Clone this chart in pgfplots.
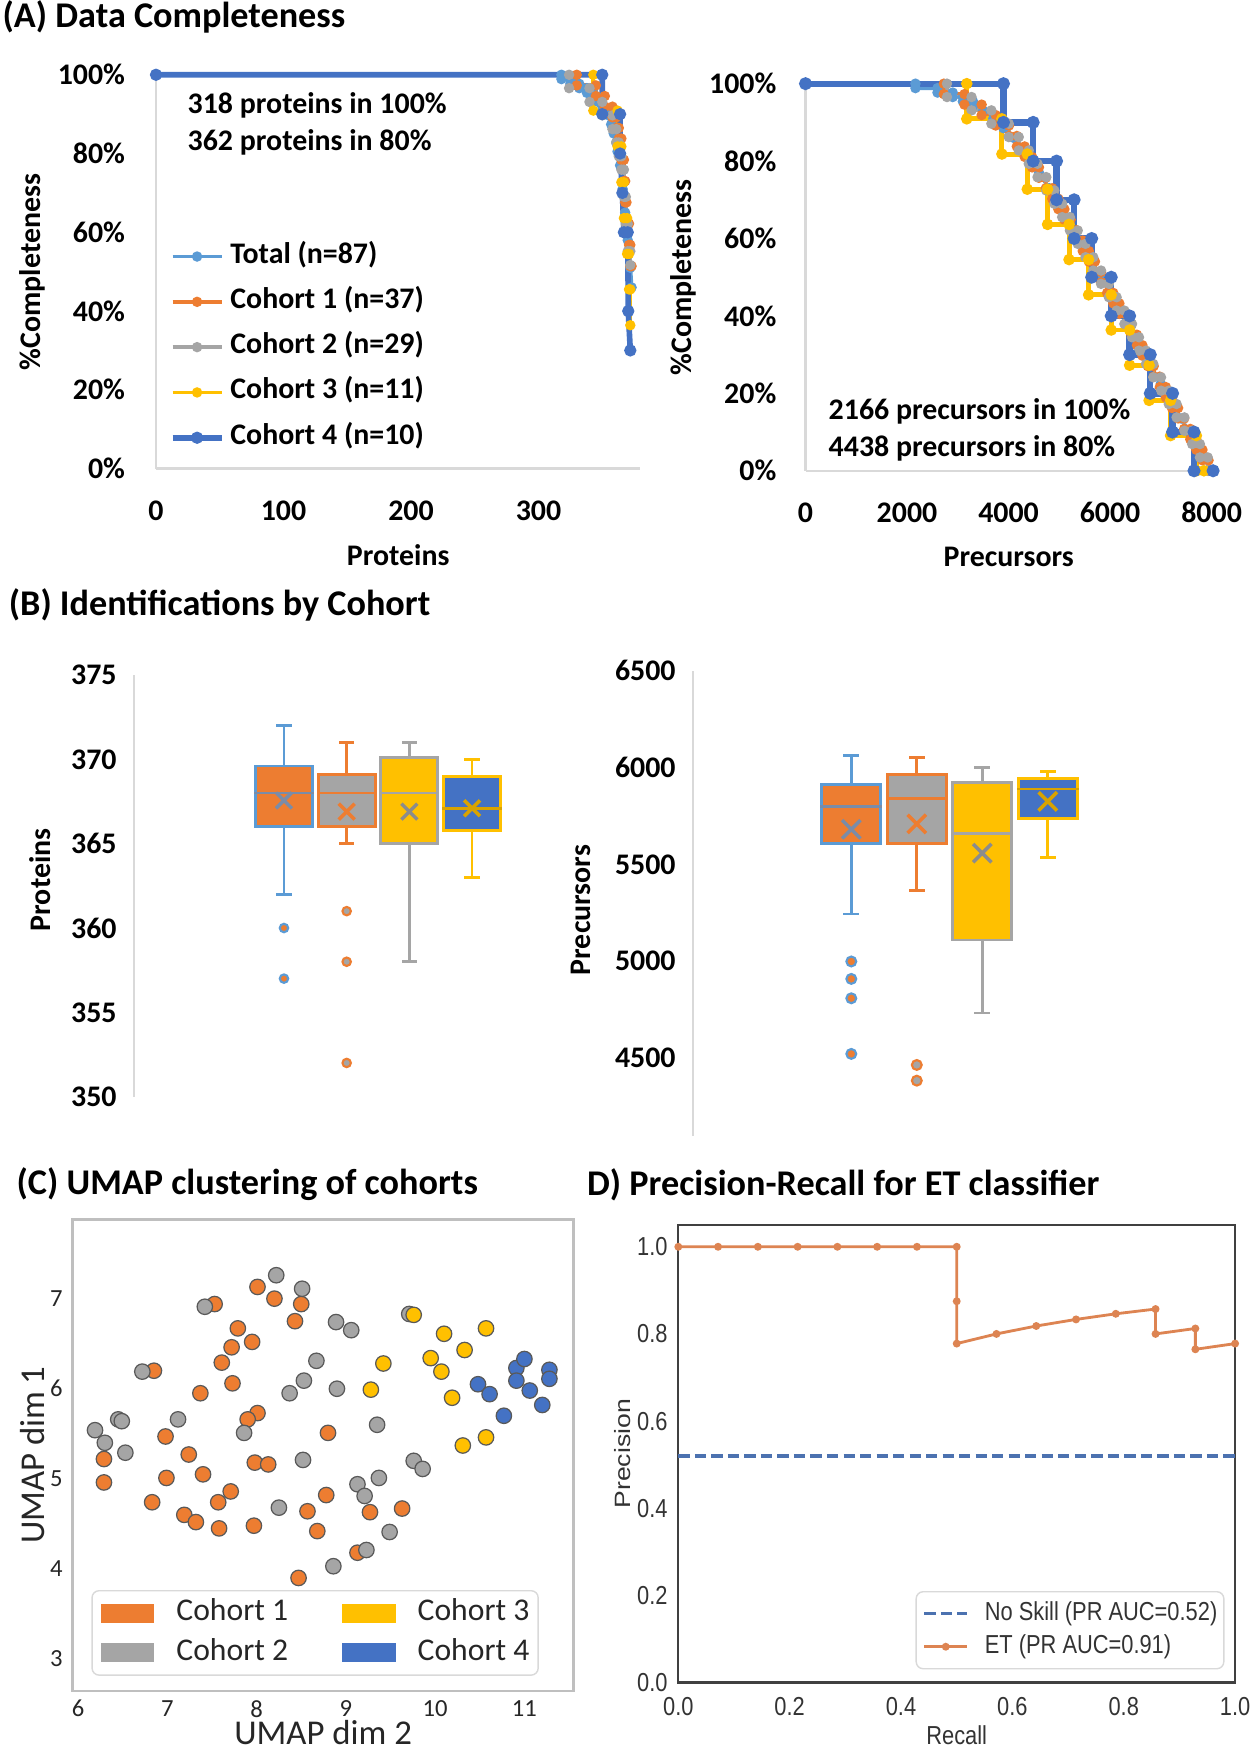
\documentclass[border=0pt]{standalone}
\usepackage{pgfplots}
\pgfplotsset{compat=1.18}
\usepackage{fontspec}
\setmainfont{Carlito}
\newfontfamily\arialn[FakeStretch=0.84]{Liberation Sans}
\newfontfamily\arialw[FakeStretch=1.2]{Liberation Sans}
\definecolor{xlblue}{HTML}{5B9BD5}
\definecolor{xorange}{HTML}{ED7D31}
\definecolor{xgray}{HTML}{A5A5A5}
\definecolor{xgold}{HTML}{FFC000}
\definecolor{xblue}{HTML}{4472C4}
\definecolor{axgray}{HTML}{D9D9D9}
\definecolor{sborange}{HTML}{DD8452}
\definecolor{sbblue}{HTML}{4C72B0}
\definecolor{txt}{HTML}{262626}
\definecolor{meanblue}{HTML}{7A8CA8}
\newcommand{\fA}{\fontsize{8.5}{10}\selectfont\bfseries}
\newcommand{\fT}{\fontsize{10.3}{12}\selectfont\bfseries}
\newcommand{\fCt}{\fontsize{7}{8}\selectfont}
\newcommand{\fCl}{\fontsize{9.9}{11}\selectfont}
\newcommand{\fCg}{\fontsize{9}{10}\selectfont}
\newcommand{\fD}{\arialn\fontsize{7.4}{8.5}\selectfont}
\newcommand{\fDr}{\arialw\fontsize{6.3}{7.5}\selectfont}
\pgfplotsset{
  excelA/.style={
    scale only axis, clip=false,
    axis lines=left,
    axis line style={-, draw=axgray, line width=0.7pt},
    major tick length=0pt,
    tick label style={font=\fA, inner sep=0pt},
    ymin=0, ymax=100, ytick={0,20,40,60,80,100},
    yticklabels={0\%,20\%,40\%,60\%,80\%,100\%},
  },
  cA/.style={color=#1, line width=1.1pt, mark=*, mark size=0.9pt, mark options={solid, fill=#1}},
  excelB/.style={
    scale only axis, clip=false,
    axis lines=left,
    axis line style={-, draw=axgray, line width=0.7pt},
    x axis line style={draw=none},
    xtick=\empty,
    major tick length=0pt,
    tick label style={font=\fA, inner sep=0pt},
    yticklabel style={anchor=east, xshift=-0.167cm},
  },
  bx/.style={draw=#1, line width=0.8pt, line cap=rect, mark=none},
  cC/.style={only marks, mark=*, mark size=2.2pt, mark options={fill=#1, draw=black!65, line width=0.35pt}, forget plot},
}
\begin{document}
\begin{tikzpicture}
\fill[white] (0,0) rectangle (12.54,17.5);
\path[use as bounding box] (0,0) rectangle (12.54,17.5);

% ---------------- A left ----------------
\begin{axis}[excelA, at={(1.56cm,12.814cm)}, anchor=south west,
  width=4.845cm, height=3.938cm, xmin=0, xmax=380,
  xtick={0,100,200,300}, xticklabels={0,100,200,300},
  yticklabel style={anchor=east, xshift=-0.303cm},
  xticklabel style={anchor=center, yshift=-0.419cm},
  xlabel={Proteins}, ylabel={\%Completeness},
  every axis x label/.style={at={(axis description cs:0.5,-0.219)}, anchor=center, font=\fA},
  every axis y label/.style={at={(axis description cs:-0.2545,0.499)}, rotate=90, anchor=center, font=\fA},
  legend style={at={(axis description cs:0.027,0.5745)}, anchor=north west, draw=none, fill=none,
    inner sep=0pt, row sep=0.183cm, column sep=0.06cm, font=\fA,
    nodes={inner sep=0pt, text height=0.2cm, text depth=0.07cm}},
  legend cell align=left,
  legend image code/.code={\draw[mark repeat=2, mark phase=2, #1] plot coordinates {(0cm,0cm) (0.245cm,0cm) (0.49cm,0cm)};},
]
\addplot[cA=xlblue] table {
0 100
318 100
318 98.9
325 98.9
325 97.7
332 97.7
332 96.6
338 96.6
338 95.4
343 95.4
343 94.3
347 94.3
347 93.1
350 92
353 90.8
355 89.7
357 87.4
359 85.1
361 82.8
362 80.5
364 77
366 71
368 65
370 58
372 51
373 46
};
\addlegendentry{Total (n=87)}
\addplot[cA=xorange] table {
0 100
330 100
330 97.3
345 97.3
345 94.6
352 94.6
352 91.9
358 91.9
358 89.2
361 89.2
361 86.5
363 86.5
363 83.8
365 83.8
365 78.4
367 78.4
367 73.0
368 73.0
368 67.6
369 67.6
369 62.2
371 62.2
371 56.8
372 56.8
372 51.4
373 51.4
};
\addlegendentry{Cohort 1 (n=37)}
\addplot[cA=xgray] table {
0 100
324 100
324 96.6
340 96.6
340 93.1
350 93.1
350 89.7
358 89.7
358 86.2
361 86.2
361 82.8
363 82.8
363 79.3
365 79.3
365 75.9
367 75.9
367 69.0
368.5 69.0
368.5 62.1
370 62.1
370 55.2
372 55.2
372 51.7
};
\addlegendentry{Cohort 2 (n=29)}
\addplot[cA=xgold] table {
0 100
343 100
343 90.9
362 90.9
362 81.8
365 81.8
365 72.7
367 72.7
367 63.6
369.5 63.6
369.5 54.5
371 54.5
371 45.5
372 45.5
372 36.4
};
\addlegendentry{Cohort 3 (n=11)}
\addplot[cA=xblue, line width=1.6pt] table {
0 100
350 100
350 90
364 90
364 80
365.8 70
367 60
370 60
370.4 40
372 30
};
\addlegendentry{Cohort 4 (n=10)}
\end{axis}

% ---------------- A right ----------------
\begin{axis}[excelA, at={(8.055cm,12.792cm)}, anchor=south west,
  width=4.076cm, height=3.871cm, xmin=0, xmax=8030,
  xtick={0,2000,4000,6000,8000}, xticklabels={0,2000,4000,6000,8000},
  yticklabel style={anchor=east, xshift=-0.285cm},
  xticklabel style={anchor=center, yshift=-0.416cm},
  xlabel={Precursors}, ylabel={\%Completeness},
  every axis x label/.style={at={(axis description cs:0.4988,-0.222)}, anchor=center, font=\fA},
  every axis y label/.style={at={(axis description cs:-0.3005,0.4994)}, rotate=90, anchor=center, font=\fA},
]
\addplot[cA=xlblue] table {
0 100
2166 100
2166 98.85
2600 98.85
2600 97.7
2900 97.7
2900 96.55
3100 96.55
3100 95.4
3300 95.4
3300 94.25
3500 93
3700 91
3900 88.5
4100 86
4300 82.8
4438 80
4600 77
4800 73
5000 68.5
5200 64
5400 59.5
5600 55
5800 50.5
6000 46
6200 41.5
6400 37
6600 32
6800 27
7000 22.5
7200 18
7400 13.5
7600 9
7800 4.5
8000 0
};
\addplot[cA=xorange] table {
0 100
2725 100
2725 97.30
3131 97.30
3131 94.59
3470 94.59
3470 91.89
3746 91.89
3746 89.19
4009 89.19
4009 86.49
4163 86.49
4163 83.78
4318 83.78
4318 81.08
4464 81.08
4464 78.38
4599 78.38
4599 75.68
4734 75.68
4734 72.97
4861 72.97
4861 70.27
4981 70.27
4981 67.57
5101 67.57
5101 64.86
5222 64.86
5222 62.16
5342 62.16
5342 59.46
5462 59.46
5462 56.76
5582 56.76
5582 54.05
5702 54.05
5702 51.35
5822 51.35
5822 48.65
5942 48.65
5942 45.95
6063 45.95
6063 43.24
6183 43.24
6183 40.54
6303 40.54
6303 37.84
6420 37.84
6420 35.14
6529 35.14
6529 32.43
6637 32.43
6637 29.73
6745 29.73
6745 27.03
6859 27.03
6859 24.32
6979 24.32
6979 21.62
7099 21.62
7099 18.92
7219 18.92
7219 16.22
7340 16.22
7340 13.51
7460 13.51
7460 10.81
7580 10.81
7580 8.11
7700 8.11
7700 5.41
7820 5.41
7820 2.70
7940 2.70
7940 0
8000 0
};
\addplot[cA=xgray] table {
0 100
2787 100
2787 96.55
3271 96.55
3271 93.10
3662 93.10
3662 89.66
4004 89.66
4004 86.21
4201 86.21
4201 82.76
4398 82.76
4398 79.31
4571 79.31
4571 75.86
4743 75.86
4743 72.41
4903 72.41
4903 68.97
5056 68.97
5056 65.52
5209 65.52
5209 62.07
5363 62.07
5363 58.62
5516 58.62
5516 55.17
5669 55.17
5669 51.72
5822 51.72
5822 48.28
5976 48.28
5976 44.83
6129 44.83
6129 41.38
6282 41.38
6282 37.93
6432 37.93
6432 34.48
6570 34.48
6570 31.03
6708 31.03
6708 27.59
6851 27.59
6851 24.14
7004 24.14
7004 20.69
7157 20.69
7157 17.24
7310 17.24
7310 13.79
7464 13.79
7464 10.34
7617 10.34
7617 6.90
7770 6.90
7770 3.45
7924 3.45
7924 0
8000 0
};
\addplot[cA=xgold, line width=1.4pt] table {
0 100
3177 100
3177 90.91
3869 90.91
3869 81.82
4369 81.82
4369 72.73
4769 72.73
4769 63.64
5192 63.64
5192 54.55
5577 54.55
5577 45.45
6023 45.45
6023 36.36
6385 36.36
6385 27.27
6769 27.27
6769 18.18
7192 18.18
7192 9.09
7700 9.09
7700 0
7850 0
};
\addplot[cA=xblue, line width=1.8pt] table {
0 100
3900 100
3900 90
4485 90
4485 80
4946 80
4946 70
5292 70
5292 60
5638 60
5638 50
6023 50
6023 40
6385 40
6385 30
6792 30
6792 20
7231 20
7231 10
7654 10
7654 0
8030 0
};
\end{axis}

% ---------------- B left ----------------
\begin{axis}[excelB, at={(1.34cm,6.533cm)}, anchor=south west,
  width=4.321cm, height=4.217cm, xmin=-1.392, xmax=5.5, ymin=350, ymax=375,
  ytick={350,355,360,365,370,375}, yticklabels={350,355,360,365,370,375},
  ylabel={Proteins},
  every axis y label/.style={at={(axis description cs:-0.2175,0.514)}, rotate=90, anchor=center, font=\fA},
]
% box 1
\addplot[bx=xlblue] coordinates {(1,362) (1,372)};
\addplot[bx=xlblue] coordinates {(0.9,372) (1.1,372)};
\addplot[bx=xlblue] coordinates {(0.9,362) (1.1,362)};
\addplot[bx=xlblue, fill=xorange] coordinates {(0.545,366) (1.455,366) (1.455,369.6) (0.545,369.6) (0.545,366)};
\addplot[bx=meanblue] coordinates {(0.545,368) (1.455,368)};
\addplot[only marks, mark=*, mark size=1.2pt, mark options={fill=xorange, draw=xlblue, line width=0.6pt}] coordinates {(1,360) (1,357)};
% box 2
\addplot[bx=xorange] coordinates {(2,365) (2,371)};
\addplot[bx=xorange] coordinates {(1.9,371) (2.1,371)};
\addplot[bx=xorange] coordinates {(1.9,365) (2.1,365)};
\addplot[bx=xorange, fill=xgray] coordinates {(1.545,366) (2.455,366) (2.455,369.1) (1.545,369.1) (1.545,366)};
\addplot[bx=xorange] coordinates {(1.545,368) (2.455,368)};
\addplot[only marks, mark=*, mark size=1.2pt, mark options={fill=xgray, draw=xorange, line width=0.6pt}] coordinates {(2,361) (2,358) (2,352)};
% box 3
\addplot[bx=xgray] coordinates {(3,358) (3,371)};
\addplot[bx=xgray] coordinates {(2.9,371) (3.1,371)};
\addplot[bx=xgray] coordinates {(2.9,358) (3.1,358)};
\addplot[bx=xgray, fill=xgold] coordinates {(2.545,365) (3.455,365) (3.455,370.1) (2.545,370.1) (2.545,365)};
\addplot[bx=xgray] coordinates {(2.545,368) (3.455,368)};
% box 4
\addplot[bx=xgold] coordinates {(4,363) (4,370)};
\addplot[bx=xgold] coordinates {(3.9,370) (4.1,370)};
\addplot[bx=xgold] coordinates {(3.9,363) (4.1,363)};
\addplot[bx=xgold, fill=xblue] coordinates {(3.545,365.8) (4.455,365.8) (4.455,369) (3.545,369) (3.545,365.8)};
\addplot[bx=xgold!85!black] coordinates {(3.545,367.1) (4.455,367.1)};
% means
\addplot[only marks, mark=x, mark size=3.2pt, line width=1pt, color=meanblue] coordinates {(1,367.56)};
\addplot[only marks, mark=x, mark size=3.2pt, line width=1pt, color=xorange] coordinates {(2,366.9)};
\addplot[only marks, mark=x, mark size=3.2pt, line width=1pt, color=black!45] coordinates {(3,366.9)};
\addplot[only marks, mark=x, mark size=3.2pt, line width=1pt, color=xgold!85!black] coordinates {(4,367.1)};
\end{axis}

% ---------------- B right ----------------
\begin{axis}[excelB, at={(6.93cm,6.143cm)}, anchor=south west,
  width=4.53cm, height=4.651cm, xmin=-1.417, xmax=5.5, ymin=4100, ymax=6500,
  ytick={4500,5000,5500,6000,6500}, yticklabels={4500,5000,5500,6000,6500},
  ylabel={Precursors},
  every axis y label/.style={at={(axis description cs:-0.247,0.485)}, rotate=90, anchor=center, font=\fA},
]
% box 1
\addplot[bx=xlblue] coordinates {(1,5244) (1,6063)};
\addplot[bx=xlblue] coordinates {(0.9,6063) (1.1,6063)};
\addplot[bx=xlblue] coordinates {(0.9,5244) (1.1,5244)};
\addplot[bx=xlblue, fill=xorange] coordinates {(0.55,5609) (1.45,5609) (1.45,5913) (0.55,5913) (0.55,5609)};
\addplot[bx=meanblue] coordinates {(0.55,5797) (1.45,5797)};
\addplot[only marks, mark=*, mark size=1.4pt, mark options={fill=xorange, draw=xlblue, line width=0.6pt}] coordinates {(1,4999) (1,4909) (1,4809) (1,4522)};
% box 2
\addplot[bx=xorange] coordinates {(2,5364) (2,6053)};
\addplot[bx=xorange] coordinates {(1.9,6053) (2.1,6053)};
\addplot[bx=xorange] coordinates {(1.9,5364) (2.1,5364)};
\addplot[bx=xorange, fill=xgray] coordinates {(1.55,5609) (2.45,5609) (2.45,5963) (1.55,5963) (1.55,5609)};
\addplot[bx=xorange] coordinates {(1.55,5840) (2.45,5840)};
\addplot[only marks, mark=*, mark size=1.4pt, mark options={fill=xgray, draw=xorange, line width=0.6pt}] coordinates {(2,4465) (2,4384)};
% box 3
\addplot[bx=xgray] coordinates {(3,4733) (3,5998)};
\addplot[bx=xgray] coordinates {(2.9,5998) (3.1,5998)};
\addplot[bx=xgray] coordinates {(2.9,4733) (3.1,4733)};
\addplot[bx=xgray, fill=xgold] coordinates {(2.55,5110) (3.45,5110) (3.45,5923) (2.55,5923) (2.55,5110)};
\addplot[bx=xgray] coordinates {(2.55,5659) (3.45,5659)};
% box 4
\addplot[bx=xgold] coordinates {(4,5534) (4,5978)};
\addplot[bx=xgold] coordinates {(3.9,5978) (4.1,5978)};
\addplot[bx=xgold] coordinates {(3.9,5534) (4.1,5534)};
\addplot[bx=xgold, fill=xblue] coordinates {(3.55,5738) (4.45,5738) (4.45,5945) (3.55,5945) (3.55,5738)};
\addplot[bx=xgold!85!black] coordinates {(3.55,5889) (4.45,5889)};
% means
\addplot[only marks, mark=x, mark size=3.7pt, line width=1pt, color=meanblue] coordinates {(1,5681)};
\addplot[only marks, mark=x, mark size=3.7pt, line width=1pt, color=xorange] coordinates {(2,5709)};
\addplot[only marks, mark=x, mark size=3.7pt, line width=1pt, color=black!45] coordinates {(3,5558)};
\addplot[only marks, mark=x, mark size=3.7pt, line width=1pt, color=xgold!85!black] coordinates {(4,5825)};
\end{axis}

% ---------------- C ----------------
\begin{axis}[scale only axis, clip=false, at={(0.727cm,0.59cm)}, anchor=south west,
  width=5.008cm, height=4.716cm, xmin=5.94, xmax=11.55, ymin=2.645, ymax=7.88,
  axis line style={draw=black!25, line width=0.7pt},
  xtick={6,7,8,9,10,11}, xticklabels={6,7,8,9,10,11},
  ytick={3,4,5,6,7}, yticklabels={3,4,5,6,7},
  major tick length=0pt,
  tick label style={font=\fCt, text=txt, inner sep=0pt},
  xticklabel style={anchor=center, yshift=-0.177cm},
  yticklabel style={anchor=east, xshift=-0.095cm},
  xlabel={UMAP dim 2}, ylabel={UMAP dim 1},
  every axis x label/.style={at={(axis description cs:0.5,-0.088)}, anchor=center, font=\fCl, text=txt},
  every axis y label/.style={at={(axis description cs:-0.080,0.5)}, rotate=90, anchor=center, font=\fCl, text=txt},
  legend columns=2,
  legend style={at={(axis cs:6.149,3.766)}, anchor=north west, draw=black!15, rounded corners=2pt,
    fill=white, inner xsep=0.088cm, inner ysep=0.1cm, column sep=0.22cm, row sep=0.144cm,
    font=\fCg, text=txt, nodes={inner sep=0pt, text height=0.2cm, text depth=0.05cm},
    /tikz/every even column/.append style={column sep=0.54cm}},
  legend cell align=left,
  legend image code/.code={\fill[#1, draw=none, sharp corners] (0cm,-0.095cm) rectangle (0.536cm,0.095cm);},
]
\addplot[cC=xorange] table {
7.53 6.94
8.01 7.13
8.20 7.00
8.50 6.94
8.43 6.75
7.79 6.67
7.95 6.52
7.72 6.46
7.61 6.29
6.85 6.20
7.73 6.06
7.37 5.95
8.01 5.73
7.90 5.66
8.80 5.51
6.98 5.47
6.29 5.22
7.24 5.27
6.29 4.96
6.99 5.01
7.40 5.05
7.98 5.18
8.13 5.16
6.83 4.74
7.71 4.86
7.57 4.74
7.19 4.60
7.32 4.52
7.58 4.45
7.97 4.48
8.78 4.82
8.57 4.64
8.68 4.42
9.27 4.63
9.63 4.67
9.13 4.18
8.47 3.90
};
\addplot[cC=xgray] table {
8.22 7.26
8.51 7.11
7.42 6.91
8.89 6.74
9.06 6.65
9.71 6.83
6.72 6.19
8.67 6.31
8.53 6.09
8.37 5.95
8.90 6.00
6.19 5.54
6.30 5.40
6.45 5.66
6.49 5.64
6.53 5.29
7.12 5.66
7.86 5.51
9.35 5.60
8.52 5.21
9.76 5.20
9.86 5.11
9.37 5.01
9.13 4.94
9.21 4.81
8.25 4.68
9.49 4.41
9.23 4.21
8.86 4.03
};
\addplot[cC=xgold] table {
9.76 6.82
10.10 6.61
10.57 6.67
10.33 6.43
9.95 6.34
9.42 6.28
10.07 6.19
9.28 5.99
10.19 5.90
10.57 5.46
10.31 5.37
};
\addplot[cC=xblue] table {
10.91 6.23
11.00 6.33
11.28 6.21
11.28 6.11
10.91 6.09
10.48 6.05
10.61 5.94
11.06 5.98
11.20 5.82
10.77 5.70
};
\addlegendimage{fill=xorange}\addlegendentry{Cohort 1}
\addlegendimage{fill=xgold}\addlegendentry{Cohort 3}
\addlegendimage{fill=xgray}\addlegendentry{Cohort 2}
\addlegendimage{fill=xblue}\addlegendentry{Cohort 4}
\end{axis}

% ---------------- D ----------------
\begin{axis}[scale only axis, clip=false, at={(6.783cm,0.675cm)}, anchor=south west,
  width=5.568cm, height=4.575cm, xmin=0, xmax=1, ymin=0, ymax=1.05,
  axis line style={draw=black!75, line width=0.6pt},
  xtick={0,0.2,0.4,0.6,0.8,1}, xticklabels={0.0,0.2,0.4,0.6,0.8,1.0},
  ytick={0,0.2,0.4,0.6,0.8,1}, yticklabels={0.0,0.2,0.4,0.6,0.8,1.0},
  major tick length=0pt,
  tick label style={font=\fD, text=black!80, inner sep=0pt},
  xticklabel style={anchor=center, yshift=-0.243cm},
  yticklabel style={anchor=east, xshift=-0.1cm},
  xlabel={Recall}, ylabel={Precision},
  every axis x label/.style={at={(axis description cs:0.5,-0.116)}, anchor=center, font=\fD, text=black!80},
  every axis y label/.style={at={(axis description cs:-0.0993,0.5)}, rotate=90, anchor=center, font=\fDr, text=black!80},
  legend style={at={(axis cs:0.981,0.03)}, anchor=south east, draw=black!15, rounded corners=2pt,
    fill=white, inner xsep=0.065cm, inner ysep=0.1cm, column sep=0.16cm, row sep=0.09cm,
    font=\fD, text=black!80, nodes={inner sep=0pt, text height=0.19cm, text depth=0.05cm}},
  legend cell align=left,
  legend image code/.code={\draw[sharp corners, mark repeat=2, mark phase=2, #1] plot coordinates {(0cm,0cm) (0.215cm,0cm) (0.43cm,0cm)};},
]
\addplot[color=sbblue, line width=0.9pt, dash pattern=on 3.2pt off 1.5pt] coordinates {(0,0.52) (1,0.52)};
\addlegendentry{No Skill (PR AUC=0.52)}
\addplot[color=sborange, line width=0.8pt, mark=*, mark size=0.7pt] coordinates {
(0,1) (0.0714,1) (0.1429,1) (0.2143,1) (0.2857,1) (0.3571,1) (0.4286,1) (0.5,1)
(0.5,0.875) (0.5,0.7778) (0.5714,0.8) (0.6429,0.8182) (0.7143,0.8333) (0.7857,0.8462)
(0.8571,0.8571) (0.8571,0.8) (0.9286,0.8125) (0.9286,0.7647) (1,0.7778)};
\addlegendentry{ET (PR AUC=0.91)}
\end{axis}

% ---------------- titles and notes ----------------
\node[anchor=west, inner sep=0pt, font=\fT] at (0.02,17.334) {(A) Data Completeness};
\node[anchor=west, inner sep=0pt, font=\fT] at (0.082,11.45) {(B) Identifications by Cohort};
\node[anchor=west, inner sep=0pt, font=\fT] at (0.16,5.656) {(C) UMAP clustering of cohorts};
\node[anchor=west, inner sep=0pt, font=\fT] at (5.864,5.656) {D) Precision-Recall for ET classifier};
\node[anchor=west, inner sep=0pt, font=\fA] at (1.87,16.446) {318 proteins in 100\%};
\node[anchor=west, inner sep=0pt, font=\fA] at (1.87,16.076) {362 proteins in 80\%};
\node[anchor=west, inner sep=0pt, font=\fA] at (8.28,13.386) {2166 precursors in 100\%};
\node[anchor=west, inner sep=0pt, font=\fA] at (8.28,13.016) {4438 precursors in 80\%};
\end{tikzpicture}
\end{document}
